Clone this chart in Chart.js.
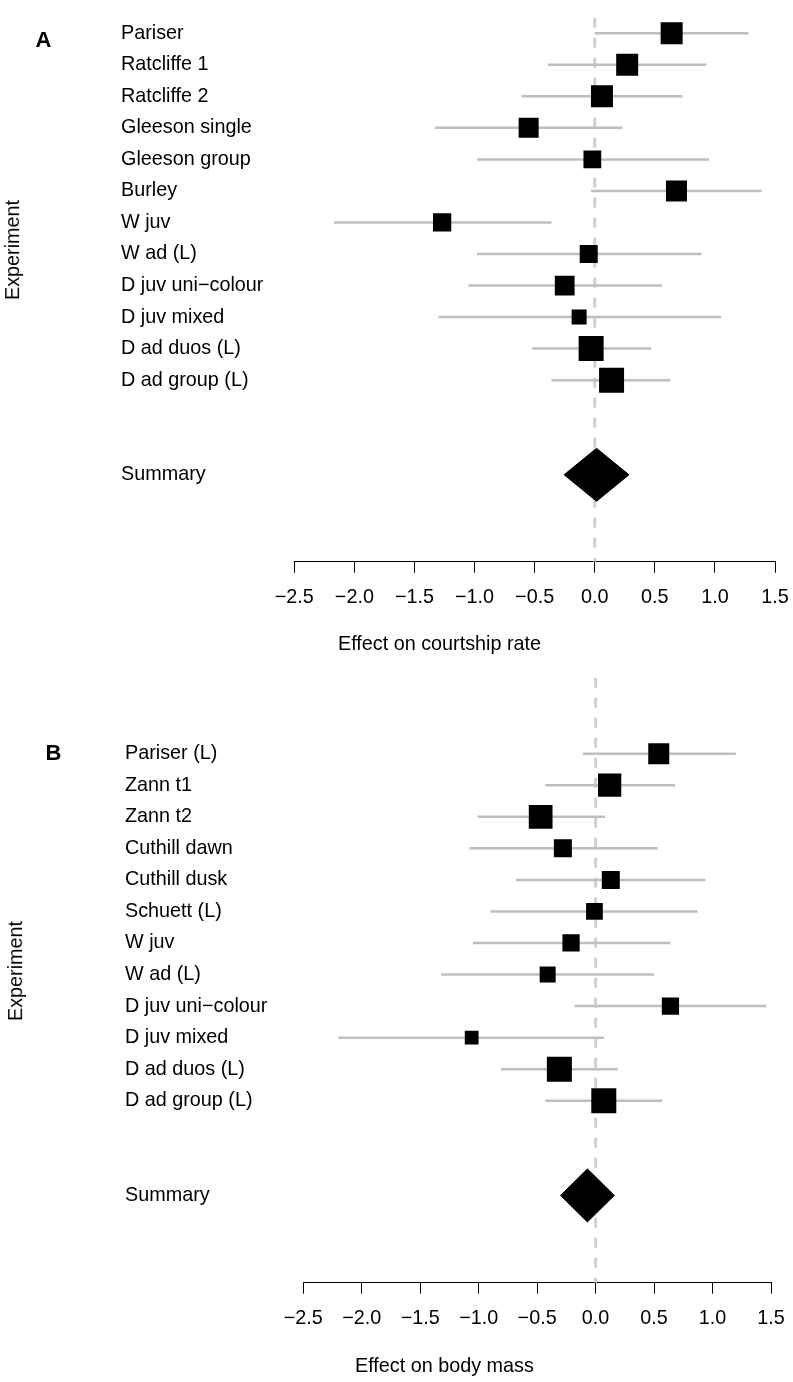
<!DOCTYPE html>
<html>
<head>
<meta charset="utf-8">
<script src="https://cdn.jsdelivr.net/npm/chart.js@4.4.0/dist/chart.umd.min.js"></script>
<style>
  body { margin: 0; background: #fff; }
  #page { position: relative; width: 793px; height: 1382px; overflow: hidden; font-family: "Liberation Sans", Arial, sans-serif; color: #000; }
  canvas { position: absolute; left: 0; }
  .txt { position: absolute; font-size: 19.8px; line-height: 19.8px; white-space: nowrap; }
  .panel { position: absolute; font-weight: bold; font-size: 22px; line-height: 22px; }
  .ylab { transform: translate(-50%, -50%) rotate(-90deg); }
</style>
</head>
<body>
<div id="page">
  <canvas id="chartA" width="793" height="660" style="top:0"></canvas>
  <canvas id="chartB" width="793" height="722" style="top:660px"></canvas>

  <div class="panel" style="left:35.5px; top:28.5px">A</div>
  <div class="txt ylab" style="left:12.5px; top:250px">Experiment</div>
  <div class="txt" style="left:338px; top:634px">Effect on courtship rate</div>

  <div class="panel" style="left:45.5px; top:742px">B</div>
  <div class="txt ylab" style="left:16px; top:971px">Experiment</div>
  <div class="txt" style="left:355px; top:1356px">Effect on body mass</div>
</div>

<script>
// --- Panel A: effect on courtship rate ---
const studiesA = ['Pariser', 'Ratcliffe 1', 'Ratcliffe 2', 'Gleeson single', 'Gleeson group', 'Burley',
  'W juv', 'W ad (L)', 'D juv uni\u2212colour', 'D juv mixed', 'D ad duos (L)', 'D ad group (L)'];
const estA   = [0.64, 0.27, 0.06, -0.55, -0.02, 0.68, -1.27, -0.05, -0.25, -0.13, -0.03, 0.14];
const lowerA = [0.00, -0.39, -0.61, -1.33, -0.98, -0.03, -2.17, -0.98, -1.05, -1.30, -0.52, -0.36];
const upperA = [1.28, 0.93, 0.73, 0.23, 0.95, 1.39, -0.36, 0.89, 0.56, 1.05, 0.47, 0.63];
const weightA = [0.88, 0.88, 0.88, 0.80, 0.71, 0.84, 0.73, 0.72, 0.79, 0.60, 1.00, 1.00];
const summaryA = [-0.255, 0.015, 0.285]; // lower, estimate, upper

// --- Panel B: effect on body mass ---
const studiesB = ['Pariser (L)', 'Zann t1', 'Zann t2', 'Cuthill dawn', 'Cuthill dusk', 'Schuett (L)',
  'W juv', 'W ad (L)', 'D juv uni\u2212colour', 'D juv mixed', 'D ad duos (L)', 'D ad group (L)'];
const estB   = [0.54, 0.12, -0.47, -0.28, 0.13, -0.01, -0.21, -0.41, 0.64, -1.06, -0.31, 0.07];
const lowerB = [-0.11, -0.43, -1.01, -1.08, -0.68, -0.90, -1.05, -1.32, -0.18, -2.20, -0.81, -0.43];
const upperB = [1.20, 0.68, 0.08, 0.53, 0.94, 0.87, 0.64, 0.50, 1.46, 0.07, 0.19, 0.57];
const weightB = [0.84, 0.93, 0.95, 0.72, 0.72, 0.67, 0.69, 0.64, 0.69, 0.55, 1.00, 1.00];
const summaryB = [-0.30, -0.07, 0.16];

const xTicks = [-2.5, -2.0, -1.5, -1.0, -0.5, 0.0, 0.5, 1.0, 1.5];

// styling
const FONT = { family: '"Liberation Sans", Arial, sans-serif', size: 19.8 };
// tall line height pushes the x tick labels down without widening the right padding
const TICK_FONT = { family: '"Liberation Sans", Arial, sans-serif', size: 19.8, lineHeight: 2.5 };
const BAR_GREY = '#bebebe';
const ZERO_GREY = '#d0d0d0';
const MAX_BOX = 25;        // px side of the heaviest study
const DIAMOND_HALF = 0.84; // in row units

function fmt(v) {
  return (v < 0 ? '\u2212' : '') + Math.abs(v).toFixed(1);
}

function drawForest(id, p) {
  const summaryRow = p.studies.length + 3;
  const rowTicks = p.studies.map((s, i) => i + 1).concat([summaryRow]);
  const datasets = [];

  // study estimates (squares sized by weight)
  datasets.push({
    data: p.est.map((e, i) => ({ x: e, y: i + 1 })),
    showLine: false,
    pointStyle: 'rect',
    pointRadius: p.weight.map(w => w * MAX_BOX / Math.SQRT2),
    pointBackgroundColor: '#000',
    pointBorderWidth: 0,
    borderWidth: 0
  });

  // summary diamond
  const [sLo, sEst, sHi] = p.summary;
  datasets.push({
    data: [
      { x: sLo, y: summaryRow },
      { x: sEst, y: summaryRow - DIAMOND_HALF },
      { x: sHi, y: summaryRow },
      { x: sEst, y: summaryRow + DIAMOND_HALF },
      { x: sLo, y: summaryRow }
    ],
    fill: 'shape',
    backgroundColor: '#000',
    borderColor: '#000',
    borderWidth: 1,
    pointRadius: 0,
    tension: 0
  });

  // confidence intervals
  p.lower.forEach((lo, i) => {
    datasets.push({
      data: [{ x: lo, y: i + 1 }, { x: p.upper[i], y: i + 1 }],
      borderColor: BAR_GREY,
      borderWidth: 2.5,
      pointRadius: 0,
      fill: false
    });
  });

  // zero reference line
  datasets.push({
    data: [{ x: 0, y: p.yMin }, { x: 0, y: p.yMax }],
    borderColor: ZERO_GREY,
    borderWidth: 3,
    borderDash: [10, 10],
    pointRadius: 0,
    fill: false
  });

  new Chart(document.getElementById(id), {
    type: 'line',
    data: { datasets },
    options: {
      responsive: false,
      animation: false,
      events: [],
      layout: { padding: p.padding },
      plugins: { legend: { display: false }, tooltip: { enabled: false } },
      scales: {
        x: {
          type: 'linear',
          min: xTicks[0],
          max: xTicks[xTicks.length - 1],
          afterBuildTicks: s => { s.ticks = xTicks.map(v => ({ value: v })); },
          afterFit: s => { s.height = 50; },
          border: { display: true, color: '#000', width: 1 },
          grid: { drawOnChartArea: false, drawTicks: true, tickLength: 11, tickColor: '#000', tickWidth: 1, color: '#000' },
          ticks: { font: TICK_FONT, color: '#000', padding: 0, maxRotation: 0, autoSkip: false, callback: v => fmt(v) }
        },
        y: {
          type: 'linear',
          reverse: true,
          min: p.yMin,
          max: p.yMax,
          afterBuildTicks: s => { s.ticks = rowTicks.map(v => ({ value: v })); },
          afterFit: s => { s.width = p.labelWidth; },
          border: { display: false },
          grid: { display: false },
          ticks: {
            font: FONT, color: '#000', crossAlign: 'far', padding: 0, autoSkip: false,
            callback: v => (v === summaryRow ? 'Summary' : p.studies[v - 1])
          }
        }
      }
    }
  });
}

drawForest('chartA', {
  studies: studiesA, est: estA, lower: lowerA, upper: upperA, weight: weightA, summary: summaryA,
  yMin: 0.507, yMax: 17.756, labelWidth: 173.3,
  padding: { left: 121, right: 18, top: 12, bottom: 48.3 }
});

drawForest('chartB', {
  studies: studiesB, est: estB, lower: lowerB, upper: upperB, weight: weightB, summary: summaryB,
  yMin: -1.408, yMax: 17.766, labelWidth: 178.3,
  padding: { left: 125, right: 22, top: 12, bottom: 49.3 }
});
</script>
</body>
</html>
